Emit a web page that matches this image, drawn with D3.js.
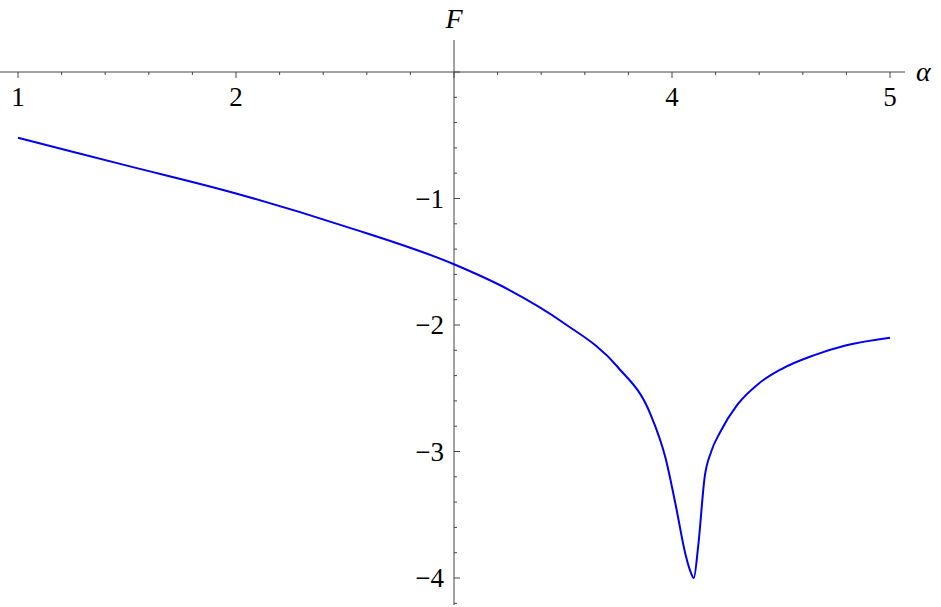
<!DOCTYPE html>
<html><head><meta charset="utf-8">
<script src="https://cdn.jsdelivr.net/npm/d3@7"></script>
<style>body{margin:0;background:#fff}</style>
</head><body>
<script>
// curve samples
var alphaVals = [1, 1.5, 2, 2.5, 3, 3.25, 3.5, 3.75, 3.9, 3.97, 4.02, 4.06, 4.085, 4.1, 4.12, 4.15, 4.18, 4.22, 4.3, 4.4, 4.5, 4.65, 4.8, 5];
var fVals = [-0.52, -0.74, -0.96, -1.22, -1.52, -1.72, -1.98, -2.33, -2.7, -3.05, -3.45, -3.8, -3.95, -4.0, -3.75, -3.2, -3.0, -2.85, -2.63, -2.46, -2.35, -2.24, -2.16, -2.1];
var xTicks = [1, 2, 4, 5];
var yTicks = [-1, -2, -3, -4];

var W = 941, H = 607;
var svg = d3.select("body").append("svg").attr("width", W).attr("height", H);
var x = d3.scaleLinear().domain([1, 5]).range([18, 890]);
var y = d3.scaleLinear().domain([0, -4]).range([72, 578]);
var font = "Liberation Serif";
var axisColor = "#444";

// x axis
svg.append("line").attr("x1", 0).attr("x2", 905).attr("y1", y(0)).attr("y2", y(0)).attr("stroke", axisColor);
d3.range(1, 5.001, 0.2).forEach(function(v) {
  var major = Math.abs(v - Math.round(v)) < 1e-6;
  svg.append("line").attr("x1", x(v)).attr("x2", x(v)).attr("y1", y(0)).attr("y2", y(0) + (major ? 6 : 3)).attr("stroke", axisColor);
});
svg.selectAll(".xl").data(xTicks).enter().append("text")
  .attr("x", function(d) { return x(d); }).attr("y", y(0) + 34)
  .attr("text-anchor", "middle").attr("font-family", font).attr("font-size", 27)
  .text(function(d) { return d; });
svg.append("text").attr("x", 916).attr("y", y(0) + 9).attr("font-family", font).attr("font-style", "italic").attr("font-size", 28).text("α");

// y axis
svg.append("line").attr("x1", x(3)).attr("x2", x(3)).attr("y1", 40).attr("y2", 605).attr("stroke", axisColor);
d3.range(0, -4.201, -0.2).forEach(function(v) {
  var major = Math.abs(v - Math.round(v)) < 1e-6;
  svg.append("line").attr("x1", x(3)).attr("x2", x(3) + (major ? 6 : 3)).attr("y1", y(v)).attr("y2", y(v)).attr("stroke", axisColor);
});
svg.selectAll(".yl").data(yTicks).enter().append("text")
  .attr("x", x(3) - 10).attr("y", function(d) { return y(d) + 9; })
  .attr("text-anchor", "end").attr("font-family", font).attr("font-size", 27)
  .text(function(d) { return "\u2212" + Math.abs(d); });
svg.append("text").attr("x", x(3)).attr("y", 28).attr("text-anchor", "middle").attr("font-family", font).attr("font-style", "italic").attr("font-size", 28).text("F");

// curve
var pts = alphaVals.map(function(a, i) { return [a, fVals[i]]; });
svg.append("path").datum(pts)
  .attr("d", d3.line().x(function(d) { return x(d[0]); }).y(function(d) { return y(d[1]); }).curve(d3.curveMonotoneX))
  .attr("fill", "none").attr("stroke", "#0000ee").attr("stroke-width", 2);
</script>
</body></html>
